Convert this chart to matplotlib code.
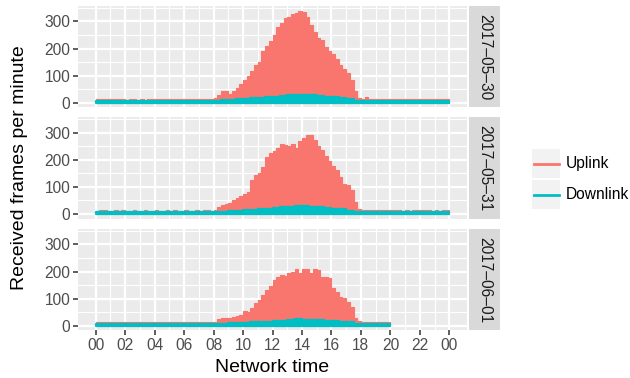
import numpy as np
import matplotlib.pyplot as plt
from matplotlib.patches import Rectangle
from matplotlib.lines import Line2D

plt.rcParams['font.family'] = ['Liberation Sans', 'DejaVu Sans']

days = ['2017–05–30', '2017–05–31', '2017–06–01']
series = ['Uplink', 'Downlink']
colors = {'Uplink': '#F8766D', 'Downlink': '#00BFC4'}

# received frames per minute, 15-minute steps from 00:00
up_0530 = [12, 13, 14, 12, 12, 13, 12, 12, 11, 12, 12, 11, 12, 11, 12, 13,
           12, 12, 13, 12, 14, 12, 12, 13, 12, 13, 14, 12, 13, 15, 12, 14,
           16, 30, 42, 44, 32, 45, 55, 70, 85, 100, 116, 138, 150, 190, 208, 228,
           250, 280, 295, 312, 318, 326, 333, 340, 335, 318, 288, 262, 240, 230, 205, 190,
           178, 162, 140, 125, 108, 85, 45, 18, 14, 21, 15, 13, 12, 13, 12, 12,
           13, 12, 12, 13, 12, 14, 12, 13, 12, 13, 14, 12, 13, 12, 13, 12]
up_0531 = [12, 14, 13, 12, 12, 13, 12, 13, 12, 12, 13, 12, 12, 13, 12, 12,
           13, 12, 12, 14, 12, 13, 12, 12, 13, 12, 12, 13, 12, 14, 13, 12,
           14, 25, 35, 38, 40, 50, 60, 68, 74, 80, 125, 145, 153, 172, 210, 227,
           232, 245, 257, 254, 250, 260, 245, 268, 282, 290, 292, 275, 250, 237, 213, 195,
           176, 164, 135, 110, 108, 90, 44, 20, 16, 14, 13, 13, 14, 13, 13, 14,
           13, 14, 13, 12, 13, 12, 14, 13, 13, 14, 13, 12, 13, 12, 14, 13]
up_0601 = [12, 14, 13, 12, 13, 12, 13, 12, 12, 13, 12, 12, 13, 12, 12, 13,
           12, 13, 12, 12, 13, 12, 13, 12, 12, 13, 12, 13, 13, 12, 13, 12,
           14, 25, 27, 27, 28, 32, 36, 40, 55, 52, 64, 83, 95, 114, 130, 148,
           170, 181, 188, 184, 194, 200, 209, 194, 209, 209, 194, 209, 206, 181, 181, 175,
           138, 126, 107, 101, 89, 70, 27, 16, 15, 14, 14, 15, 14, 15, 14, 14]

# 30-minute steps from 00:00
down_0530 = [6, 7, 6, 6, 7, 6, 6, 7, 6, 6, 7, 6, 6, 7, 6, 7,
             8, 9, 10, 12, 14, 16, 18, 20, 22, 25, 27, 30, 30, 27, 25, 22,
             20, 16, 12, 8, 7, 6, 6, 7, 6, 6, 7, 6, 6, 7, 6, 6]
down_0531 = [6, 7, 6, 6, 7, 6, 7, 6, 6, 7, 6, 6, 7, 6, 6, 7,
             7, 8, 10, 11, 13, 15, 17, 19, 22, 24, 26, 28, 28, 27, 25, 23,
             20, 18, 12, 8, 7, 6, 7, 6, 6, 7, 6, 6, 7, 6, 7, 6]
down_0601 = [6, 7, 6, 6, 7, 6, 6, 7, 6, 7, 6, 6, 7, 6, 6, 7,
             7, 8, 9, 10, 11, 12, 13, 15, 17, 19, 20, 24, 22, 20, 20, 19,
             17, 15, 12, 8, 7, 7, 6, 6]

uplink = [up_0530, up_0531, up_0601]
downlink = [down_0530, down_0531, down_0601]

W, H = 630, 378
fig = plt.figure(figsize=(6.3, 3.78), dpi=100)

px_left, px_right = 78, 467
panel_tops = [6, 117.3, 229]
panel_h = 101.3
tick_col = '#4D4D4D'


def draw_steps(ax, vals, step, color, lw, z):
    v = np.array(vals + [vals[-1]], dtype=float)
    x = np.arange(len(v)) * step
    ax.fill_between(x, 0, v, step='post', facecolor=color, edgecolor=color,
                    linewidth=lw, zorder=z)


for i, day in enumerate(days):
    top = panel_tops[i]
    ax = fig.add_axes([px_left / W, 1 - (top + panel_h) / H,
                       (px_right - px_left) / W, panel_h / H])
    ax.set_facecolor('#EBEBEB')
    for s in ax.spines.values():
        s.set_visible(False)

    draw_steps(ax, uplink[i], 0.25, colors['Uplink'], 0.8, 2)
    draw_steps(ax, downlink[i], 0.5, colors['Downlink'], 1.6, 3)

    ax.set_xlim(-1.2, 25.2)
    ax.set_ylim(-17, 357)
    ax.set_xticks(np.arange(0, 25, 2))
    ax.set_xticks(np.arange(1, 25, 2), minor=True)
    ax.set_yticks([0, 100, 200, 300])
    ax.set_yticks([50, 150, 250, 350], minor=True)
    ax.grid(which='major', color='white', linewidth=1.6, zorder=1)
    ax.grid(which='minor', color='white', linewidth=0.8, zorder=1)
    ax.set_axisbelow(True)
    ax.tick_params(which='minor', length=0)
    ax.tick_params(which='major', length=3.5, width=1.1, color='#333333',
                   labelsize=11.2, labelcolor=tick_col, pad=2)
    if i < 2:
        ax.tick_params(axis='x', which='major', length=0, labelbottom=False)
    else:
        ax.set_xticklabels(['00', '02', '04', '06', '08', '10', '12', '14',
                            '16', '18', '20', '22', '00'])

    # facet strip
    sax = fig.add_axes([469 / W, 1 - (top + panel_h) / H, 31 / W, panel_h / H])
    sax.set_facecolor('#D9D9D9')
    sax.set_xticks([])
    sax.set_yticks([])
    for s in sax.spines.values():
        s.set_visible(False)
    sax.text(0.5, 0.5, day, rotation=270, ha='center', va='center',
             fontsize=11.2, color='#1A1A1A', transform=sax.transAxes)

fig.text((px_left + px_right) / 2 / W, 1 - 368 / H, 'Network time',
         ha='center', va='center', fontsize=14)
fig.text(20 / W, 1 - 168 / H, 'Received frames per minute', rotation=90,
         ha='center', va='center', fontsize=14)

# legend
key_tops = [149, 180]
for name, kt in zip(series, key_tops):
    fig.add_artist(Rectangle((531.7 / W, 1 - (kt + 29) / H), 28.3 / W, 29 / H,
                             transform=fig.transFigure, facecolor='#F2F2F2',
                             edgecolor='none'))
    yc = 1 - (kt + 14.5) / H
    fig.add_artist(Line2D([533.5 / W, 558.5 / W], [yc, yc], transform=fig.transFigure,
                          color=colors[name], linewidth=2))
    fig.text(566 / W, yc, name, ha='left', va='center', fontsize=11.2, color='black')

fig.savefig('out.png', dpi=100)
